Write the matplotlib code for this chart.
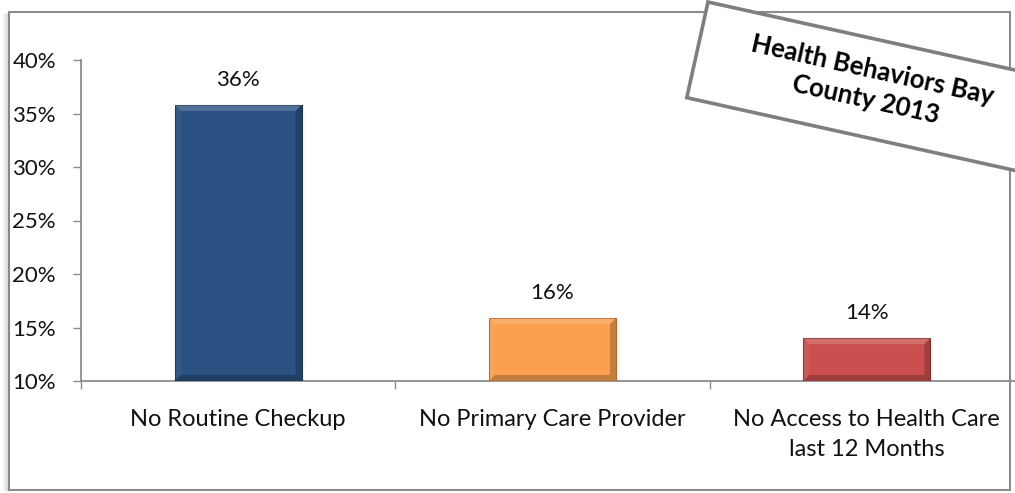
import matplotlib
matplotlib.use("Agg")
import matplotlib.pyplot as plt
import matplotlib.patches as mpatches
from matplotlib.transforms import Affine2D
import numpy as np

# data
categories = ["No Routine Checkup", "No Primary Care Provider",
              "No Access to Health Care\nlast 12 Months"]
values = [0.358, 0.159, 0.140]
labels = ["36%", "16%", "14%"]
colors = ["#2A5181", "#F99F4D", "#C9504E"]
edge_colors = ["#17324F", "#B8692A", "#8A3331"]
yticks = [0.10, 0.15, 0.20, 0.25, 0.30, 0.35, 0.40]
title = "Health Behaviors Bay\nCounty 2013"

plt.rcParams['font.family'] = ['Lato', 'DejaVu Sans']

W, H, DPI = 1015, 493, 100
fig = plt.figure(figsize=(W / DPI, H / DPI), dpi=DPI)

# outer chart frame with a soft shadow on the left
for i in range(6):
    a = 0.10 + 0.08 * i
    fig.add_artist(plt.Line2D([(3 + i) / W] * 2, [1 - 14 / H, 1 - 490 / H],
                              transform=fig.transFigure, color="#808080",
                              alpha=a * 0.5, lw=1))
frame = mpatches.Rectangle((9 / W, 1 - 490 / H), (1010 - 9) / W, (490 - 12) / H,
                           transform=fig.transFigure, fill=False,
                           edgecolor="#8C8C8C", lw=1.5)
fig.add_artist(frame)

ax = fig.add_axes([81 / W, 1 - 381 / H, (1024 - 81) / W, (381 - 60) / H])
x = np.arange(len(categories))
bar_w = 0.404
ax.set_xlim(-0.5, len(categories) - 0.5)
ax.set_ylim(0.10, 0.40)

bars = ax.bar(x, [v - 0.10 for v in values], bottom=0.10, width=bar_w,
              color=colors, edgecolor=edge_colors, lw=0.8, zorder=3)

# bevel on each bar: light top, darker sides/bottom
to_data = ax.transData.inverted()
bv = 6
for xi, v, c in zip(x, values, colors):
    (x0, y0) = ax.transData.transform((xi - bar_w / 2, 0.10))
    (x1, y1) = ax.transData.transform((xi + bar_w / 2, v))
    outer = [(x0, y0), (x1, y0), (x1, y1), (x0, y1)]
    inner = [(x0 + bv, y0 + bv), (x1 - bv, y0 + bv), (x1 - bv, y1 - bv), (x0 + bv, y1 - bv)]
    faces = [
        ([outer[3], outer[2], inner[2], inner[3]], "white", 0.18),   # top
        ([outer[1], outer[2], inner[2], inner[1]], "black", 0.20),   # right
        ([outer[0], outer[1], inner[1], inner[0]], "black", 0.22),   # bottom
        ([outer[0], outer[3], inner[3], inner[0]], "white", 0.05),   # left
    ]
    for pts, fc, alpha in faces:
        dpts = to_data.transform(pts)
        ax.add_patch(mpatches.Polygon(dpts, closed=True, facecolor=fc,
                                      alpha=alpha, lw=0, zorder=4))

for xi, v, lab in zip(x, values, labels):
    ax.annotate(lab, (xi, v), xytext=(0, 11), textcoords="offset points",
                ha="center", va="bottom", fontsize=16, color="#111111")

ax.set_yticks(yticks)
ax.set_yticklabels([f"{t:.0%}" for t in yticks], fontsize=16, color="#111111")
ax.tick_params(axis="y", length=6, color="#8C8C8C", width=1, pad=12)

ax.set_xticks(np.arange(len(categories) + 1) - 0.5)
ax.set_xticklabels([])
ax.set_xticks(x, minor=True)
ax.set_xticklabels(categories, minor=True, fontsize=17, color="#111111",
                   linespacing=1.55)
ax.tick_params(axis="x", which="major", length=6, color="#8C8C8C", width=1)
ax.tick_params(axis="x", which="minor", length=0, pad=20)
for lab in ax.get_xticklabels(minor=True):
    lab.set_va("top")

for s in ["top", "right"]:
    ax.spines[s].set_visible(False)
for s in ["left", "bottom"]:
    ax.spines[s].set_color("#8C8C8C")
    ax.spines[s].set_linewidth(1.3)

# rotated title box
box_tr = Affine2D().rotate_deg(-12.5).translate(708, H - 2)
box = mpatches.Rectangle((0, -98), 350, 98, transform=box_tr,
                         facecolor="white", edgecolor="#7F7F7F", lw=2.6,
                         zorder=10)
fig.add_artist(box)
cx, cy = box_tr.transform((175, -46))
fig.text(cx / W, cy / H, title, ha="center", va="center", rotation=-12.5,
         rotation_mode="anchor", fontsize=18.5, fontweight="bold",
         linespacing=1.3, zorder=11)

fig.savefig("out.png", dpi=DPI)
